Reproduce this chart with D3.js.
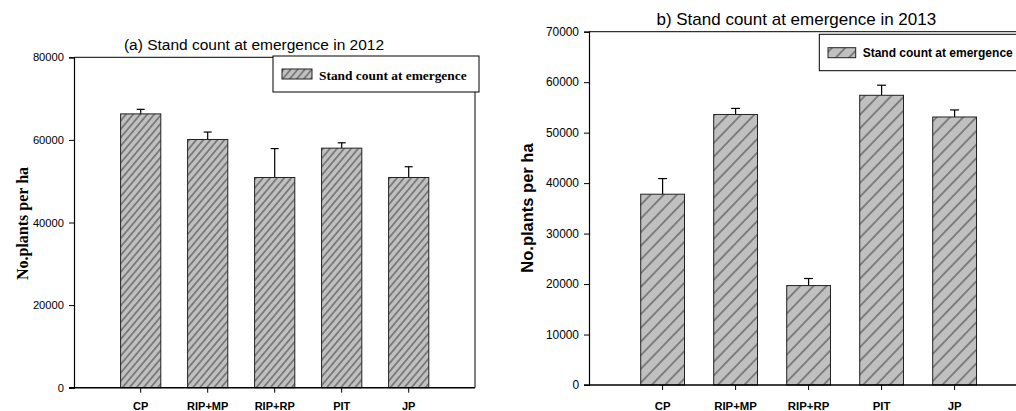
<!DOCTYPE html>
<html>
<head>
<meta charset="utf-8">
<script src="https://cdn.jsdelivr.net/npm/d3@7"></script>
<style>
  body { margin: 0; background: #fff; }
  svg { display: block; }
</style>
</head>
<body>
<svg id="chart" width="1016" height="411"></svg>
<script>
// data
var categories = ["CP", "RIP+MP", "RIP+RP", "PIT", "JP"];
var means2012 = [66300, 60100, 50900, 58000, 50900];
var errs2012 = [1100, 1800, 7000, 1300, 2600];
var means2013 = [37800, 53600, 19700, 57400, 53100];
var errs2013 = [3100, 1200, 1400, 2000, 1400];
var ticks2012 = [0, 20000, 40000, 60000, 80000];
var ticks2013 = [0, 10000, 20000, 30000, 40000, 50000, 60000, 70000];
var legendLabel = "Stand count at emergence";

var svg = d3.select("#chart");
var defs = svg.append("defs");

function hatch(id, spacing, angle) {
  var p = defs.append("pattern")
    .attr("id", id)
    .attr("patternUnits", "userSpaceOnUse")
    .attr("width", spacing)
    .attr("height", 10)
    .attr("patternTransform", "rotate(" + angle + ")");
  p.append("rect").attr("width", spacing).attr("height", 10).attr("fill", "#c0c0c0");
  p.append("line")
    .attr("x1", spacing / 2).attr("x2", spacing / 2)
    .attr("y1", 0).attr("y2", 10)
    .attr("stroke", "#2a2a2a").attr("stroke-width", 0.9);
}
hatch("hatchA", 5.4, 40);
hatch("hatchB", 9.5, 44);

var panels = [
  {
    title: "(a) Stand count at emergence in 2012",
    means: means2012, errs: errs2012, ticks: ticks2012, max: 80000,
    left: 74, right: 475, top: 57.3, bottom: 387.7,
    band: [107.2, 442.2], cap: 8, fill: "url(#hatchA)",
    titleX: 254, titleY: 49.5, titleSize: 15.5,
    tickFont: 11.2, catFont: 11, catY: 409.5,
    ylab: { x: 28, y: 223.5, size: 16, font: "'Liberation Serif', 'Times New Roman', serif" },
    legend: { x: 273, y: 56, w: 206, h: 36, sx: 282, sy: 69, sw: 30, sh: 10, tx: 319, ty: 80,
              size: 13.4, font: "'Liberation Serif', 'Times New Roman', serif" }
  },
  {
    title: "b) Stand count at emergence in 2013",
    means: means2013, errs: errs2013, ticks: ticks2013, max: 70000,
    left: 589, right: 1040, top: 31.7, bottom: 385,
    band: [626.1, 991.1], cap: 9, fill: "url(#hatchB)",
    titleX: 796.3, titleY: 25, titleSize: 17,
    tickFont: 11.9, catFont: 11.4, catY: 409.5,
    ylab: { x: 533, y: 208, size: 16.5, font: "'Liberation Sans', Arial, sans-serif" },
    legend: { x: 819.3, y: 34.3, w: 220, h: 36.4, sx: 828, sy: 47.7, sw: 27.7, sh: 10, tx: 862.7, ty: 57.3,
              size: 12, font: "'Liberation Sans', Arial, sans-serif" }
  }
];

function drawPanel(cfg) {
  var sans = "'Liberation Sans', Arial, sans-serif";
  var g = svg.append("g");

  var x = d3.scaleBand()
    .domain(categories)
    .range(cfg.band)
    .paddingInner(0.4)
    .paddingOuter(0.2);
  var y = d3.scaleLinear()
    .domain([0, cfg.max])
    .range([cfg.bottom, cfg.top]);

  // frame (top + right)
  g.append("path")
    .attr("d", "M" + cfg.left + "," + cfg.top + "H" + cfg.right + "V" + cfg.bottom)
    .attr("fill", "none")
    .attr("stroke", "#000")
    .attr("stroke-width", 1);

  // error bars (upper half only shows above the bar)
  g.selectAll("line.err")
    .data(categories)
    .enter()
      .append("line")
      .attr("class", "err")
      .attr("x1", d => x(d) + x.bandwidth() / 2)
      .attr("x2", d => x(d) + x.bandwidth() / 2)
      .attr("y1", (d, i) => y(cfg.means[i]))
      .attr("y2", (d, i) => y(cfg.means[i] + cfg.errs[i]))
      .attr("stroke", "#000")
      .attr("stroke-width", 1.2);
  g.selectAll("line.cap")
    .data(categories)
    .enter()
      .append("line")
      .attr("class", "cap")
      .attr("x1", d => x(d) + x.bandwidth() / 2 - cfg.cap / 2)
      .attr("x2", d => x(d) + x.bandwidth() / 2 + cfg.cap / 2)
      .attr("y1", (d, i) => y(cfg.means[i] + cfg.errs[i]))
      .attr("y2", (d, i) => y(cfg.means[i] + cfg.errs[i]))
      .attr("stroke", "#000")
      .attr("stroke-width", 1.2);

  g.selectAll("rect.bar")
    .data(categories)
    .enter()
      .append("rect")
      .attr("class", "bar")
      .attr("x", d => x(d))
      .attr("y", (d, i) => y(cfg.means[i]))
      .attr("width", x.bandwidth())
      .attr("height", (d, i) => cfg.bottom - y(cfg.means[i]))
      .attr("fill", cfg.fill)
      .attr("stroke", "#222")
      .attr("stroke-width", 1);

  // y axis
  var yAxis = g.append("g")
    .attr("transform", "translate(" + cfg.left + ",0)")
    .call(d3.axisLeft(y).tickValues(cfg.ticks).tickSize(5).tickPadding(5).tickFormat(d3.format("d")));
  yAxis.select(".domain").attr("stroke-width", 1.2);
  yAxis.selectAll("text")
    .style("font-family", sans)
    .style("font-size", cfg.tickFont + "px")
    .attr("fill", "#000");

  // x axis
  var xAxis = g.append("g")
    .attr("transform", "translate(0," + cfg.bottom + ")")
    .call(d3.axisBottom(x).tickSize(5).tickSizeOuter(0));
  xAxis.select(".domain").remove();
  xAxis.selectAll("text").remove();
  g.append("line")
    .attr("x1", cfg.left - 5).attr("x2", cfg.right)
    .attr("y1", cfg.bottom).attr("y2", cfg.bottom)
    .attr("stroke", "#000")
    .attr("stroke-width", 1.4);

  g.selectAll("text.cat")
    .data(categories)
    .enter()
      .append("text")
      .attr("class", "cat")
      .attr("x", d => x(d) + x.bandwidth() / 2)
      .attr("y", cfg.catY)
      .attr("text-anchor", "middle")
      .style("font-family", sans)
      .style("font-weight", "bold")
      .style("font-size", cfg.catFont + "px")
      .text(d => d);

  // title
  g.append("text")
    .attr("x", cfg.titleX)
    .attr("y", cfg.titleY)
    .attr("text-anchor", "middle")
    .style("font-family", sans)
    .style("font-size", cfg.titleSize + "px")
    .text(cfg.title);

  // y label
  g.append("text")
    .attr("transform", "translate(" + cfg.ylab.x + "," + cfg.ylab.y + ") rotate(-90)")
    .attr("text-anchor", "middle")
    .style("font-family", cfg.ylab.font)
    .style("font-weight", "bold")
    .style("font-size", cfg.ylab.size + "px")
    .text("No.plants per ha");

  // legend
  var L = cfg.legend;
  var legend = g.append("g").attr("class", "legend");
  legend.append("rect")
    .attr("x", L.x).attr("y", L.y)
    .attr("width", L.w).attr("height", L.h)
    .attr("fill", "#fff")
    .attr("stroke", "#000")
    .attr("stroke-width", 1);
  legend.append("rect")
    .attr("x", L.sx).attr("y", L.sy)
    .attr("width", L.sw).attr("height", L.sh)
    .attr("fill", cfg.fill)
    .attr("stroke", "#222")
    .attr("stroke-width", 1);
  legend.append("text")
    .attr("x", L.tx).attr("y", L.ty)
    .style("font-family", L.font)
    .style("font-weight", "bold")
    .style("font-size", L.size + "px")
    .text(legendLabel);
}

panels.forEach(drawPanel);
</script>
</body>
</html>
